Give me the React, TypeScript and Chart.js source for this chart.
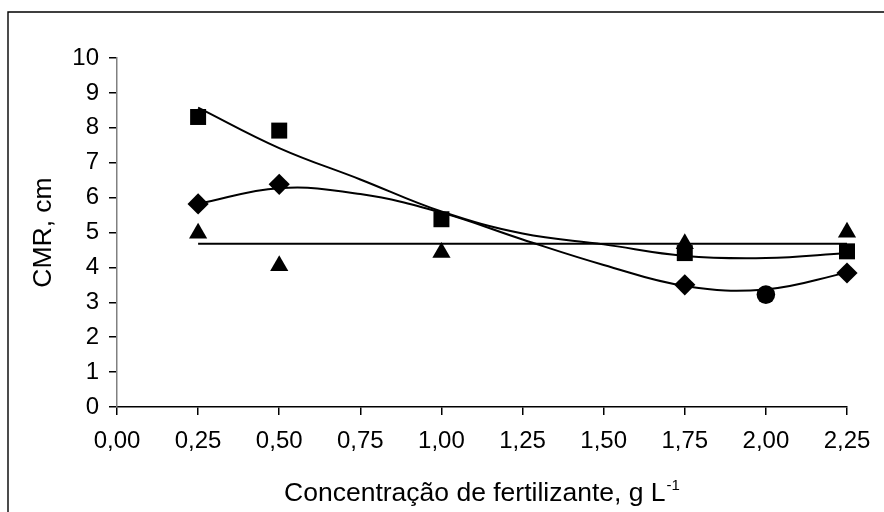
import React, { useEffect, useRef } from "react";
import { Chart, registerables } from "chart.js";

Chart.register(...registerables);

// Observed data
const concentrations = [0.25, 0.5, 1.0, 1.75, 2.25];
const diamondX = [0.25, 0.5, 1.75, 2.25];
const diamondValues = [5.82, 6.38, 3.5, 3.84];
const squareValues = [8.31, 7.92, 5.38, 4.41, 4.46];
const triangleValues = [4.98, 4.05, 4.43, 4.68, 5.01];
const circleX = [2.0];
const circleValues = [3.22];

// Trend curves
const trendX = [0.25, 0.5, 0.75, 1.0, 1.25, 1.5, 1.75, 2.0, 2.25];
const squareTrend = [8.58, 7.42, 6.52, 5.6, 4.97, 4.66, 4.33, 4.27, 4.41];
const diamondTrend = [5.82, 6.27, 6.1, 5.57, 4.8, 4.07, 3.47, 3.37, 3.85];
const triangleTrendX = [0.25, 2.25];
const triangleTrend = [4.68, 4.68];

// Axis
const xMin = 0;
const xMax = 2.25;
const xStep = 0.25;
const yMin = 0;
const yMax = 10;
const yStep = 1;
const yTitle = "CMR, cm";
const xTitleMain = "Concentração de fertilizante, g L";
const xTitleSup = "-1";

const FONT = '"Liberation Sans", Arial, sans-serif';

const pts = (xs: number[], ys: number[]) => xs.map((x, i) => ({ x, y: ys[i] }));

export default function App() {
  const ref = useRef<HTMLCanvasElement | null>(null);

  useEffect(() => {
    if (!ref.current) return;

    const framePlugin = {
      id: "frame",
      beforeDraw(chart: any) {
        const ctx = chart.ctx;
        ctx.save();
        ctx.strokeStyle = "#000";
        ctx.lineWidth = 1.4;
        ctx.beginPath();
        ctx.moveTo(8, 530);
        ctx.lineTo(8, 12);
        ctx.lineTo(900, 12);
        ctx.stroke();
        ctx.restore();
      },
      afterDraw(chart: any) {
        const ctx = chart.ctx;
        const area = chart.chartArea;
        ctx.save();
        ctx.fillStyle = "#000";
        ctx.textBaseline = "alphabetic";
        ctx.font = `26.5px ${FONT}`;
        const mainW = ctx.measureText(xTitleMain).width;
        ctx.font = `15px ${FONT}`;
        const supW = ctx.measureText(xTitleSup).width;
        const total = mainW + 1 + supW;
        const cx = (area.left + area.right) / 2;
        const x0 = cx - total / 2;
        ctx.font = `26.5px ${FONT}`;
        ctx.textAlign = "left";
        ctx.fillText(xTitleMain, x0, 501);
        ctx.font = `15px ${FONT}`;
        ctx.fillText(xTitleSup, x0 + mainW + 1, 490);
        ctx.restore();
      },
    };

    const lineStyle = {
      showLine: true,
      borderColor: "#000",
      borderWidth: 2,
      pointRadius: 0,
      tension: 0.4,
      clip: false,
      order: 10,
    };

    const chart = new Chart(ref.current, {
      type: "scatter",
      data: {
        datasets: [
          { label: "trend-square", data: pts(trendX, squareTrend), ...lineStyle },
          { label: "trend-diamond", data: pts(trendX, diamondTrend), ...lineStyle },
          { label: "trend-triangle", data: pts(triangleTrendX, triangleTrend), ...lineStyle, tension: 0 },
          {
            label: "diamond",
            data: pts(diamondX, diamondValues),
            pointStyle: "rectRot",
            pointRadius: 10.6,
            backgroundColor: "#000",
            borderWidth: 0,
            clip: false,
            order: 4,
          },
          {
            label: "square",
            data: pts(concentrations, squareValues),
            pointStyle: "rect",
            pointRadius: 11.3,
            backgroundColor: "#000",
            borderWidth: 0,
            clip: false,
            order: 3,
          },
          {
            label: "triangle",
            data: pts(concentrations, triangleValues),
            pointStyle: "triangle",
            pointRadius: 10.5,
            backgroundColor: "#000",
            borderWidth: 0,
            clip: false,
            order: 2,
          },
          {
            label: "circle",
            data: pts(circleX, circleValues),
            pointStyle: "circle",
            pointRadius: 9.3,
            backgroundColor: "#000",
            borderWidth: 0,
            clip: false,
            order: 1,
          },
        ],
      },
      options: {
        responsive: false,
        animation: false,
        devicePixelRatio: 1,
        layout: { padding: { left: 0, top: 58, right: 37, bottom: 0 } },
        plugins: {
          legend: { display: false },
          tooltip: { enabled: false },
        },
        scales: {
          x: {
            type: "linear",
            min: xMin,
            max: xMax,
            afterFit: (s: any) => {
              s.height = 105;
            },
            ticks: {
              stepSize: xStep,
              color: "#000",
              padding: 12,
              font: { family: FONT, size: 24 },
              callback: (v: any) => Number(v).toFixed(2).replace(".", ","),
            },
            grid: {
              display: true,
              drawOnChartArea: false,
              drawTicks: true,
              tickLength: 8,
              color: "#000",
              lineWidth: 1.5,
            },
            border: { display: true, color: "#000", width: 1.5 },
          },
          y: {
            type: "linear",
            min: yMin,
            max: yMax,
            afterFit: (s: any) => {
              s.width = 117;
            },
            ticks: {
              stepSize: yStep,
              color: "#000",
              padding: 10,
              font: { family: FONT, size: 24 },
            },
            grid: {
              display: true,
              drawOnChartArea: false,
              drawTicks: true,
              tickLength: 8,
              color: "#000",
              lineWidth: 1.5,
            },
            border: { display: true, color: "#808080", width: 1.5 },
            title: {
              display: true,
              text: yTitle,
              color: "#000",
              font: { family: FONT, size: 26.5 },
              padding: { top: 28, bottom: 0 },
            },
          },
        },
      },
      plugins: [framePlugin],
    } as any);

    return () => chart.destroy();
  }, []);

  return (
    <div style={{ position: "absolute", left: 0, top: 0, width: 884, height: 512, background: "#fff" }}>
      <canvas ref={ref} width={884} height={512} style={{ display: "block" }} />
    </div>
  );
}
